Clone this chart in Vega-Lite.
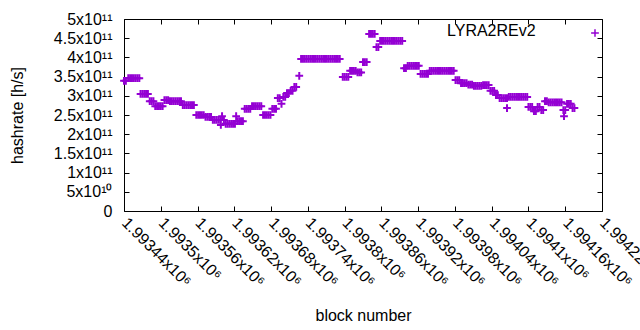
{
  "$schema": "https://vega.github.io/schema/vega-lite/v6.json",
  "autosize": {"type": "none"},
  "padding": {"left": 124, "top": 19, "right": 38, "bottom": 119},
  "width": 478,
  "height": 192,
  "background": "white",
  "config": {
    "view": {"stroke": "black", "strokeWidth": 1},
    "font": "Liberation Sans",
    "axis": {
      "labelFont": "Liberation Sans", "labelFontSize": 16, "labelColor": "black",
      "titleFont": "Liberation Sans", "titleFontSize": 16, "titleColor": "black", "titleFontWeight": "normal",
      "tickColor": "black", "tickSize": -5, "tickWidth": 1, "domain": false, "grid": false,
      "labelOverlap": false, "labelBound": false, "labelFlush": false
    },
    "legend": {
      "labelFont": "Liberation Sans", "labelFontSize": 16, "labelColor": "black"
    }
  },
  "layer": [
    {
      "data": {"values": [
        {"block":1993440,"hashrate":3.39e11},{"block":1993443,"hashrate":3.39e11},
        {"block":1993447,"hashrate":3.46e11},{"block":1993450,"hashrate":3.46e11},{"block":1993453,"hashrate":3.46e11},{"block":1993456,"hashrate":3.46e11},{"block":1993459,"hashrate":3.46e11},{"block":1993462,"hashrate":3.46e11},{"block":1993465,"hashrate":3.46e11},
        {"block":1993467,"hashrate":3.05e11},{"block":1993470,"hashrate":3.05e11},{"block":1993473,"hashrate":3.05e11},{"block":1993476,"hashrate":3.05e11},{"block":1993479,"hashrate":3.05e11},
        {"block":1993482,"hashrate":2.86e11},{"block":1993485,"hashrate":2.86e11},{"block":1993488,"hashrate":2.86e11},
        {"block":1993491,"hashrate":2.73e11},{"block":1993494,"hashrate":2.73e11},{"block":1993497,"hashrate":2.73e11},{"block":1993500,"hashrate":2.73e11},{"block":1993503,"hashrate":2.73e11},
        {"block":1993506,"hashrate":2.89e11},{"block":1993509,"hashrate":2.89e11},{"block":1993512,"hashrate":2.89e11},
        {"block":1993515,"hashrate":2.86e11},{"block":1993518,"hashrate":2.86e11},{"block":1993521,"hashrate":2.86e11},{"block":1993524,"hashrate":2.86e11},{"block":1993527,"hashrate":2.86e11},{"block":1993530,"hashrate":2.86e11},{"block":1993533,"hashrate":2.86e11},
        {"block":1993536,"hashrate":2.76e11},{"block":1993539,"hashrate":2.76e11},{"block":1993542,"hashrate":2.76e11},{"block":1993545,"hashrate":2.76e11},{"block":1993548,"hashrate":2.76e11},{"block":1993551,"hashrate":2.76e11},{"block":1993554,"hashrate":2.76e11},
        {"block":1993558,"hashrate":2.50e11},{"block":1993561,"hashrate":2.50e11},{"block":1993564,"hashrate":2.50e11},{"block":1993567,"hashrate":2.50e11},{"block":1993570,"hashrate":2.50e11},
        {"block":1993573,"hashrate":2.45e11},{"block":1993576,"hashrate":2.45e11},{"block":1993579,"hashrate":2.45e11},{"block":1993582,"hashrate":2.45e11},
        {"block":1993585,"hashrate":2.37e11},{"block":1993588,"hashrate":2.37e11},{"block":1993591,"hashrate":2.37e11},{"block":1993594,"hashrate":2.37e11},{"block":1993597,"hashrate":2.37e11},
        {"block":1993598,"hashrate":2.24e11},{"block":1993600,"hashrate":2.47e11},{"block":1993603,"hashrate":2.37e11},
        {"block":1993606,"hashrate":2.27e11},{"block":1993609,"hashrate":2.27e11},{"block":1993612,"hashrate":2.27e11},{"block":1993615,"hashrate":2.27e11},{"block":1993618,"hashrate":2.27e11},{"block":1993621,"hashrate":2.27e11},
        {"block":1993623,"hashrate":2.47e11},
        {"block":1993625,"hashrate":2.34e11},{"block":1993628,"hashrate":2.34e11},{"block":1993631,"hashrate":2.34e11},{"block":1993634,"hashrate":2.34e11},
        {"block":1993637,"hashrate":2.66e11},{"block":1993640,"hashrate":2.66e11},{"block":1993643,"hashrate":2.66e11},{"block":1993646,"hashrate":2.66e11},
        {"block":1993649,"hashrate":2.73e11},{"block":1993652,"hashrate":2.73e11},{"block":1993655,"hashrate":2.73e11},{"block":1993658,"hashrate":2.73e11},{"block":1993661,"hashrate":2.73e11},{"block":1993664,"hashrate":2.73e11},
        {"block":1993667,"hashrate":2.50e11},{"block":1993670,"hashrate":2.50e11},{"block":1993673,"hashrate":2.50e11},{"block":1993676,"hashrate":2.50e11},{"block":1993679,"hashrate":2.50e11},
        {"block":1993682,"hashrate":2.66e11},{"block":1993685,"hashrate":2.66e11},{"block":1993688,"hashrate":2.66e11},
        {"block":1993691,"hashrate":2.94e11},{"block":1993694,"hashrate":2.94e11},
        {"block":1993697,"hashrate":2.79e11},
        {"block":1993700,"hashrate":2.97e11},{"block":1993703,"hashrate":2.97e11},
        {"block":1993706,"hashrate":3.07e11},{"block":1993709,"hashrate":3.07e11},
        {"block":1993712,"hashrate":3.13e11},{"block":1993715,"hashrate":3.13e11},
        {"block":1993718,"hashrate":3.23e11},{"block":1993721,"hashrate":3.23e11},
        {"block":1993726,"hashrate":3.52e11},
        {"block":1993729,"hashrate":3.96e11},{"block":1993732,"hashrate":3.96e11},{"block":1993735,"hashrate":3.96e11},{"block":1993738,"hashrate":3.96e11},{"block":1993741,"hashrate":3.96e11},{"block":1993744,"hashrate":3.96e11},{"block":1993747,"hashrate":3.96e11},{"block":1993750,"hashrate":3.96e11},{"block":1993753,"hashrate":3.96e11},{"block":1993756,"hashrate":3.96e11},{"block":1993759,"hashrate":3.96e11},{"block":1993762,"hashrate":3.96e11},{"block":1993765,"hashrate":3.96e11},{"block":1993768,"hashrate":3.96e11},{"block":1993771,"hashrate":3.96e11},{"block":1993774,"hashrate":3.96e11},{"block":1993777,"hashrate":3.96e11},{"block":1993780,"hashrate":3.96e11},{"block":1993783,"hashrate":3.96e11},{"block":1993786,"hashrate":3.96e11},{"block":1993789,"hashrate":3.96e11},{"block":1993792,"hashrate":3.96e11},
        {"block":1993797,"hashrate":3.49e11},{"block":1993800,"hashrate":3.49e11},{"block":1993803,"hashrate":3.49e11},{"block":1993806,"hashrate":3.49e11},
        {"block":1993809,"hashrate":3.65e11},{"block":1993812,"hashrate":3.65e11},{"block":1993815,"hashrate":3.65e11},{"block":1993818,"hashrate":3.65e11},
        {"block":1993821,"hashrate":3.61e11},{"block":1993824,"hashrate":3.61e11},{"block":1993827,"hashrate":3.61e11},
        {"block":1993830,"hashrate":3.88e11},{"block":1993833,"hashrate":3.88e11},{"block":1993836,"hashrate":3.88e11},
        {"block":1993840,"hashrate":4.61e11},{"block":1993843,"hashrate":4.61e11},{"block":1993846,"hashrate":4.61e11},{"block":1993849,"hashrate":4.61e11},
        {"block":1993852,"hashrate":4.27e11},{"block":1993855,"hashrate":4.27e11},
        {"block":1993858,"hashrate":4.43e11},{"block":1993861,"hashrate":4.43e11},{"block":1993864,"hashrate":4.43e11},{"block":1993867,"hashrate":4.43e11},{"block":1993870,"hashrate":4.43e11},{"block":1993873,"hashrate":4.43e11},{"block":1993876,"hashrate":4.43e11},{"block":1993879,"hashrate":4.43e11},{"block":1993882,"hashrate":4.43e11},{"block":1993885,"hashrate":4.43e11},{"block":1993888,"hashrate":4.43e11},{"block":1993891,"hashrate":4.43e11},{"block":1993894,"hashrate":4.43e11},
        {"block":1993897,"hashrate":3.72e11},{"block":1993900,"hashrate":3.72e11},
        {"block":1993903,"hashrate":3.78e11},{"block":1993906,"hashrate":3.78e11},{"block":1993909,"hashrate":3.78e11},{"block":1993912,"hashrate":3.78e11},{"block":1993915,"hashrate":3.78e11},{"block":1993918,"hashrate":3.78e11},{"block":1993921,"hashrate":3.78e11},
        {"block":1993924,"hashrate":3.57e11},{"block":1993927,"hashrate":3.57e11},{"block":1993930,"hashrate":3.57e11},{"block":1993933,"hashrate":3.57e11},{"block":1993936,"hashrate":3.57e11},
        {"block":1993939,"hashrate":3.65e11},{"block":1993942,"hashrate":3.65e11},{"block":1993945,"hashrate":3.65e11},{"block":1993948,"hashrate":3.65e11},{"block":1993951,"hashrate":3.65e11},{"block":1993954,"hashrate":3.65e11},{"block":1993957,"hashrate":3.65e11},{"block":1993960,"hashrate":3.65e11},{"block":1993963,"hashrate":3.65e11},{"block":1993966,"hashrate":3.65e11},{"block":1993969,"hashrate":3.65e11},{"block":1993972,"hashrate":3.65e11},{"block":1993975,"hashrate":3.65e11},{"block":1993978,"hashrate":3.65e11},
        {"block":1993981,"hashrate":3.41e11},{"block":1993984,"hashrate":3.41e11},{"block":1993987,"hashrate":3.41e11},
        {"block":1993990,"hashrate":3.33e11},{"block":1993993,"hashrate":3.33e11},{"block":1993996,"hashrate":3.33e11},{"block":1993999,"hashrate":3.33e11},
        {"block":1994002,"hashrate":3.29e11},{"block":1994005,"hashrate":3.29e11},{"block":1994008,"hashrate":3.29e11},
        {"block":1994011,"hashrate":3.26e11},{"block":1994014,"hashrate":3.26e11},{"block":1994017,"hashrate":3.26e11},{"block":1994020,"hashrate":3.26e11},{"block":1994023,"hashrate":3.26e11},
        {"block":1994026,"hashrate":3.28e11},{"block":1994029,"hashrate":3.28e11},{"block":1994032,"hashrate":3.28e11},{"block":1994035,"hashrate":3.28e11},
        {"block":1994038,"hashrate":3.13e11},{"block":1994041,"hashrate":3.13e11},{"block":1994044,"hashrate":3.13e11},
        {"block":1994047,"hashrate":3.02e11},{"block":1994050,"hashrate":3.02e11},
        {"block":1994053,"hashrate":2.94e11},{"block":1994056,"hashrate":2.94e11},{"block":1994059,"hashrate":2.94e11},{"block":1994062,"hashrate":2.94e11},{"block":1994065,"hashrate":2.94e11},
        {"block":1994065,"hashrate":2.68e11},
        {"block":1994068,"hashrate":2.97e11},{"block":1994071,"hashrate":2.97e11},{"block":1994074,"hashrate":2.97e11},{"block":1994077,"hashrate":2.97e11},{"block":1994080,"hashrate":2.97e11},{"block":1994083,"hashrate":2.97e11},{"block":1994086,"hashrate":2.97e11},{"block":1994089,"hashrate":2.97e11},{"block":1994092,"hashrate":2.97e11},{"block":1994095,"hashrate":2.97e11},{"block":1994098,"hashrate":2.97e11},
        {"block":1994100,"hashrate":2.71e11},{"block":1994103,"hashrate":2.71e11},{"block":1994106,"hashrate":2.71e11},
        {"block":1994109,"hashrate":2.60e11},{"block":1994112,"hashrate":2.60e11},
        {"block":1994115,"hashrate":2.71e11},{"block":1994118,"hashrate":2.71e11},
        {"block":1994121,"hashrate":2.63e11},{"block":1994124,"hashrate":2.63e11},
        {"block":1994127,"hashrate":2.86e11},{"block":1994130,"hashrate":2.86e11},
        {"block":1994133,"hashrate":2.83e11},{"block":1994136,"hashrate":2.83e11},{"block":1994139,"hashrate":2.83e11},{"block":1994142,"hashrate":2.83e11},{"block":1994145,"hashrate":2.83e11},{"block":1994148,"hashrate":2.83e11},{"block":1994151,"hashrate":2.83e11},{"block":1994154,"hashrate":2.83e11},
        {"block":1994157,"hashrate":2.63e11},{"block":1994160,"hashrate":2.63e11},
        {"block":1994158,"hashrate":2.47e11},
        {"block":1994163,"hashrate":2.79e11},{"block":1994166,"hashrate":2.79e11},{"block":1994169,"hashrate":2.79e11},
        {"block":1994172,"hashrate":2.68e11},{"block":1994175,"hashrate":2.68e11}
      ]},
      "mark": {"type": "point", "filled": false, "size": 60, "strokeWidth": 2, "opacity": 1},
      "encoding": {
        "x": {"field": "block", "type": "quantitative",
          "scale": {"domain": [1993440, 1994220], "nice": false, "zero": false},
          "axis": {"orient": "bottom", "title": "block number",
            "values": [1993440,1993500,1993560,1993620,1993680,1993740,1993800,1993860,1993920,1993980,1994040,1994100,1994160,1994220],
            "labelExpr": "format(datum.value/1e6, '.6~g') + 'x10⁶'",
            "labelAngle": 45, "labelAlign": "left", "labelBaseline": "middle", "labelPadding": 14,
            "titleX": 239, "titleY": 104, "titleAlign": "center", "titleBaseline": "middle"}},
        "y": {"field": "hashrate", "type": "quantitative",
          "scale": {"domain": [0, 5e11], "nice": false, "zero": true},
          "axis": {"orient": "left", "title": "hashrate [h/s]",
            "values": [0,5e10,1e11,1.5e11,2e11,2.5e11,3e11,3.5e11,4e11,4.5e11,5e11],
            "labelExpr": "datum.value == 0 ? '0' : datum.value < 1e11 ? format(datum.value/1e10, '~g') + 'x10¹⁰' : format(datum.value/1e11, '~g') + 'x10¹¹'",
            "labelPadding": 17, "labelBaseline": "middle",
            "titleX": -107, "titleY": 96, "titleAlign": "center", "titleBaseline": "middle", "titleAngle": -90}},
        "color": {"datum": "LYRA2REv2", "type": "nominal",
          "scale": {"range": ["#9400d3"]},
          "legend": {"title": null, "orient": "none", "legendX": 307, "legendY": 4, "padding": 0,
            "symbolSize": 0, "symbolOpacity": 0, "symbolStrokeWidth": 0,
            "labelFont": "Liberation Sans", "labelFontSize": 16, "labelColor": "black", "labelLimit": 300,
            "labelAlign": "left", "labelOffset": 0}},
        "shape": {"datum": " ", "type": "nominal",
          "scale": {"range": ["M-1,0H1M0,-1V1"]},
          "legend": {"title": " ", "titleFontSize": 7, "titlePadding": 2,
            "orient": "top-right", "offset": 0, "padding": 0,
            "symbolSize": 60, "symbolStrokeWidth": 1.5, "symbolStrokeColor": "#9400d3", "symbolFillColor": "transparent",
            "labelExpr": "''", "labelFontSize": 1, "labelOffset": 0}}
      }
    },
    {
      "data": {"values": [{}]},
      "mark": {"type": "point", "opacity": 0},
      "encoding": {
        "x": {"datum": 1993440, "type": "quantitative",
          "axis": {"orient": "top", "title": null, "labels": false,
            "values": [1993440,1993500,1993560,1993620,1993680,1993740,1993800,1993860,1993920,1993980,1994040,1994100,1994160,1994220]}},
        "y": {"datum": 0, "type": "quantitative",
          "axis": {"orient": "right", "title": null, "labels": false,
            "values": [0,5e10,1e11,1.5e11,2e11,2.5e11,3e11,3.5e11,4e11,4.5e11,5e11]}}
      }
    }
  ],
  "resolve": {"axis": {"x": "independent", "y": "independent"}}
}
